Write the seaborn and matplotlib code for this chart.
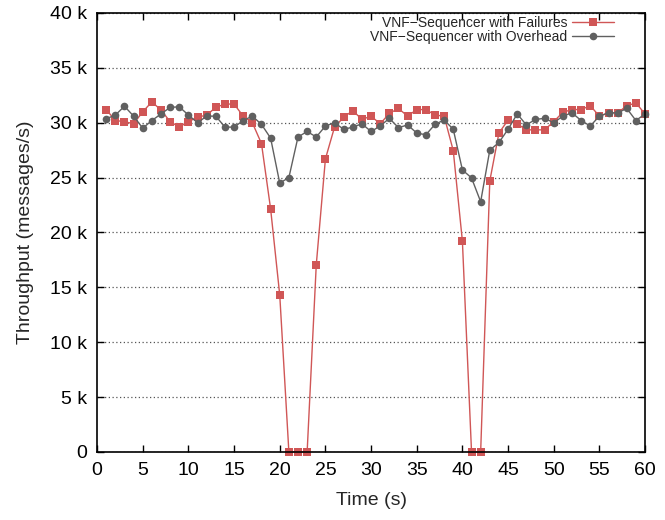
import matplotlib
matplotlib.use("Agg")
import matplotlib.pyplot as plt
import numpy as np
import pandas as pd
import seaborn as sns
from matplotlib.ticker import FuncFormatter, MultipleLocator

# Time axis (seconds)
time_s = list(range(1, 61))

# Throughput (k messages/s)
failures_k = [31.2, 30.2, 30.1, 29.9, 31.0, 31.9, 31.15, 30.1, 29.6, 30.1,
              30.5, 30.7, 31.4, 31.7, 31.7, 30.6, 30.0, 28.1, 22.15, 14.3,
              0.0, 0.0, 0.0, 17.06, 26.7, 29.6, 30.5, 31.1, 30.3, 30.6,
              29.9, 30.85, 31.3, 30.6, 31.2, 31.2, 30.7, 30.6, 27.45, 19.2,
              0.0, 0.0, 24.7, 29.06, 30.24, 29.9, 29.35, 29.35, 29.35, 30.1,
              30.95, 31.2, 31.2, 31.55, 30.6, 30.9, 30.9, 31.55, 31.8, 30.8]
overhead_k = [30.36, 30.7, 31.5, 30.6, 29.5, 30.2, 30.8, 31.4, 31.45, 30.7,
              30.0, 30.6, 30.6, 29.6, 29.6, 30.2, 30.6, 29.85, 28.6, 24.5,
              25.0, 28.7, 29.2, 28.7, 29.7, 30.0, 29.4, 29.6, 29.9, 29.2,
              29.7, 30.4, 29.55, 29.8, 29.06, 28.9, 29.85, 30.25, 29.4, 25.7,
              24.97, 22.8, 27.5, 28.2, 29.4, 30.8, 29.8, 30.3, 30.4, 30.0,
              30.6, 30.9, 30.2, 29.7, 30.6, 30.9, 30.9, 31.3, 30.2, 30.8]

series_names = ["VNF\u2212Sequencer with Failures", "VNF\u2212Sequencer with Overhead"]
series_colors = ["#d05656", "#606060"]
series_markers = ["s", "o"]

df = pd.concat([
    pd.DataFrame({"time": time_s, "throughput": np.array(failures_k) * 1000, "series": series_names[0]}),
    pd.DataFrame({"time": time_s, "throughput": np.array(overhead_k) * 1000, "series": series_names[1]}),
])

sns.set_style("ticks")
plt.rcParams["font.family"] = ["Liberation Sans", "DejaVu Sans"]

fig = plt.figure(figsize=(6.65, 5.2), dpi=100)
ax = fig.add_axes([0.146, 0.131, 0.824, 0.844])

sns.lineplot(data=df, x="time", y="throughput", hue="series", style="series",
             hue_order=series_names, style_order=series_names,
             palette=dict(zip(series_names, series_colors)),
             markers=dict(zip(series_names, series_markers)),
             dashes=False, linewidth=1.0, markersize=5.5, markeredgewidth=0,
             ax=ax, clip_on=False)

ax.set_xlim(0, 60)
ax.set_ylim(0, 40000)
ax.xaxis.set_major_locator(MultipleLocator(5))
ax.yaxis.set_major_locator(MultipleLocator(5000))
ax.yaxis.set_major_formatter(FuncFormatter(lambda v, p: "0" if v == 0 else f"{int(round(v / 1000))} k"))

ax.grid(axis="y", linestyle=(0, (1, 2)), color="#555555", linewidth=0.9)
ax.set_axisbelow(True)
ax.tick_params(direction="in", top=True, right=True, length=5, width=1,
               labelsize=14, pad=7, colors="black")
for s in ax.spines.values():
    s.set_linewidth(1.2)
    s.set_color("black")

ax.set_xlabel("Time (s)", fontsize=14, labelpad=10)
ax.set_ylabel("Throughput (messages/s)", fontsize=14, labelpad=12)

leg = ax.legend(loc="upper right", bbox_to_anchor=(0.958, 1.012), frameon=False,
                markerfirst=False, fontsize=10, labelspacing=0.0,
                handlelength=3.0, handletextpad=0.35, borderaxespad=0.2)

fig.savefig("out.png", dpi=100)
